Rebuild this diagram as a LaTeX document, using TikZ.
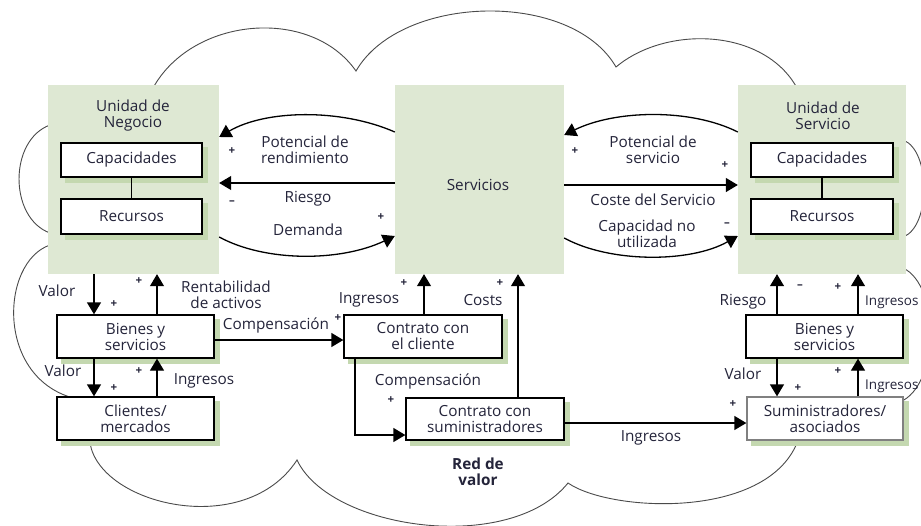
\documentclass[tikz,border=0pt]{standalone}
\usepackage{fontspec}
\setmainfont{Open Sans}
\usetikzlibrary{arrows.meta}
\pgfdeclarelayer{back}
\pgfdeclarelayer{shade}
\pgfsetlayers{back,shade,main}
\definecolor{unitgreen}{HTML}{DEE8D3}
\definecolor{shadegreen}{HTML}{C4D8B0}
\definecolor{ink}{HTML}{24243A}
\definecolor{cloudline}{HTML}{4A4A4A}
\begin{document}
\begin{tikzpicture}[x=1pt,y=-1pt,
  font=\fontsize{15.3}{16}\selectfont,
  unit/.style={fill=unitgreen, draw=none, inner sep=0pt},
  wbox/.style={draw=black, line width=1.3pt, fill=white, inner sep=0pt, align=center, text=ink},
  lbl/.style={text=ink, align=center, inner sep=0pt},
  sgn/.style={text=ink, inner sep=0pt, font=\fontsize{11.5}{12}\selectfont\bfseries},
  flow/.style={draw=black, line width=1.3pt, -{Triangle[length=12pt,width=14pt]}},
  cloud/.style={draw=cloudline, line width=0.9pt},
]
\useasboundingbox (0,0) rectangle (921,525);
\clip (0,0) rectangle (921,525);

% boxes
\node[wbox, minimum width=141pt, minimum height=34pt] (capL) at (131.5,160) {Capacidades};
\node[wbox, minimum width=141pt, minimum height=35pt] (recL) at (131.5,216.5) {Recursos};
\node[wbox, minimum width=142pt, minimum height=34pt] (capR) at (822,160) {Capacidades};
\node[wbox, minimum width=142pt, minimum height=35pt] (recR) at (822,216.5) {Recursos};
\draw[line width=1.3pt] (capL) -- (recL);
\draw[line width=1.3pt] (capR) -- (recR);

\node[wbox, minimum width=157pt, minimum height=43pt] (bienL) at (135.5,336.5) {Bienes y\\servicios};
\node[wbox, minimum width=157pt, minimum height=43pt] (cliL) at (135.5,418.5) {Clientes/\\mercados};
\node[wbox, minimum width=158pt, minimum height=43pt] (ccli) at (423,336.5) {Contrato con\\el cliente};
\node[wbox, minimum width=158pt, minimum height=42pt] (csum) at (485,419) {Contrato con\\suministradores};
\node[wbox, minimum width=157pt, minimum height=43pt] (bienR) at (824.5,336.5) {Bienes y\\servicios};
\node[wbox, draw=gray, minimum width=156pt, minimum height=43pt] (sumR) at (825,418.5) {Suministradores/\\asociados};

% green drop shadows of the boxes
\begin{pgfonlayer}{shade}
  \foreach \b in {capL,recL,capR,recR,bienL,cliL,ccli,csum,bienR,sumR}
    \fill[shadegreen] ([shift={(5,5)}]\b.north west) rectangle ([shift={(5,5)}]\b.south east);
\end{pgfonlayer}

\begin{pgfonlayer}{back}
% cloud outline of the value network (hidden parts run behind the boxes)
\draw[cloud] (153,88) .. controls (192.5,16.6) and (310.7,6.3) .. (356,71)
  .. controls (400.6,-6.3) and (571.4,-10.3) .. (616,67)
  .. controls (666,25) and (764,28) .. (797,88)
  -- (903,140)
  .. controls (931,150) and (931,227) .. (903,237)
  -- (903,268)
  .. controls (940,285) and (940,385) .. (900,402)
  -- (797,443)
  .. controls (765,520) and (610,512) .. (568,483)
  .. controls (510,555) and (330,530) .. (297,460)
  .. controls (245,540) and (100,505) .. (90,443)
  -- (77,399)
  .. controls (-5,380) and (0,262) .. (50,245)
  -- (50,233)
  .. controls (8.7,218) and (8.7,140) .. (50,125)
  -- cycle;
% units
\node[unit, minimum width=171pt, minimum height=189pt] (gl) at (133.5,179.5) {};
\node[unit, minimum width=169pt, minimum height=189pt] (gc) at (479.5,179.5) {};
\node[unit, minimum width=168pt, minimum height=189pt] (gr) at (822,179.5) {};
\end{pgfonlayer}

\node[lbl] (tl) at (133,116) {Unidad de\\Negocio};
\node[lbl] (tr) at (823,116) {Unidad de\\Servicio};
\node[lbl] (ts) at (478,185) {Servicios};

% rails for vertical links
\coordinate (xA) at (94,0);
\coordinate (xB) at (157,0);
\coordinate (xC) at (424,0);
\coordinate (xD) at (518,0);
\coordinate (xF) at (777,0);
\coordinate (xG) at (858,0);

% links between units and services
\draw[flow] (gc.west |- 0,132) .. controls (340,108) and (265,110) .. (gl.east |- 0,137);
\draw[flow] (gc.west |- 0,183) -- (gl.east |- 0,183);
\draw[flow] (gl.east |- 0,237) .. controls (265,262) and (340,262) .. (gc.west |- 0,236);
\draw[flow] (gr.west |- 0,132) .. controls (690,108) and (615,110) .. (gc.east |- 0,135);
\draw[flow] (gc.east |- 0,185) -- (gr.west |- 0,185);
\draw[flow] (gc.east |- 0,238) .. controls (610,263) and (690,263) .. (gr.west |- 0,236);

\node[lbl] at (305,150) {Potencial de\\rendimiento};
\node[sgn] at (232,151) {+};
\node[lbl] at (308,199) {Riesgo};
\node[sgn] at (232,203) {–};
\node[lbl] at (308,230) {Demanda};
\node[sgn] at (381,217) {+};

\node[lbl] at (653,150) {Potencial de\\servicio};
\node[sgn] at (575,151) {+};
\node[sgn] at (725,165) {+};
\node[lbl] at (653,200) {Coste del Servicio};
\node[lbl] at (647,234) {Capacidad no\\utilizada};
\node[sgn] at (727,225) {–};

% left column
\draw[flow] (gl.south -| xA) -- (bienL.north -| xA);
\draw[flow] (bienL.north -| xB) -- (gl.south -| xB);
\draw[flow] (bienL.south -| xA) -- (cliL.north -| xA);
\draw[flow] (cliL.north -| xB) -- (bienL.south -| xB);
\node[lbl] at (57,291) {Valor};
\node[sgn] at (114,304) {+};
\node[sgn] at (139,281) {+};
\node[lbl] at (226,295) {Rentabilidad\\de activos};
\node[lbl] at (63,371) {Valor};
\node[sgn] at (114,388) {+};
\node[sgn] at (139,371) {+};
\node[lbl] at (204,381) {Ingresos};

% contracts
\draw[flow] (bienL.east |- 0,340) -- (ccli.west |- 0,340);
\node[lbl] at (276,325) {Compensación};
\node[sgn] at (338,318) {+};
\draw[flow] (ccli.north -| xC) -- (gc.south -| xC);
\node[lbl] at (369,300) {Ingresos};
\node[sgn] at (404,283) {+};
\draw[flow] (csum.north -| xD) -- (gc.south -| xD);
\node[lbl] at (483,300) {Costs};
\node[sgn] at (500,283) {+};
\draw[flow] (ccli.south -| 355,0) |- (csum.west |- 0,435);
\node[lbl] at (428,381) {Compensación};
\node[sgn] at (391,400) {+};
\draw[flow] (csum.east |- 0,423) -- (sumR.west |- 0,423);
\node[lbl] at (651,438) {Ingresos};
\node[sgn] at (733,404) {+};
\node[lbl, font=\fontsize{15.3}{16}\selectfont\bfseries] at (478,472) {Red de\\valor};

% right column
\draw[flow] (bienR.north -| xF) -- (gr.south -| xF);
\draw[flow] (bienR.north -| xG) -- (gr.south -| xG);
\draw[flow] (bienR.south -| xF) -- (sumR.north -| xF);
\draw[flow] (sumR.north -| xG) -- (bienR.south -| xG);
\node[lbl] at (743,302) {Riesgo};
\node[sgn] at (800,287) {–};
\node[sgn] at (838,287) {+};
\node[lbl, anchor=west, font=\fontsize{13.5}{14}\selectfont] at (865,302) {Ingresos};
\node[lbl] at (743,374) {Valor};
\node[sgn] at (798,388) {+};
\node[sgn] at (838,371) {+};
\node[lbl, anchor=west, font=\fontsize{13.5}{14}\selectfont] at (865,386) {Ingresos};
\end{tikzpicture}
\end{document}
